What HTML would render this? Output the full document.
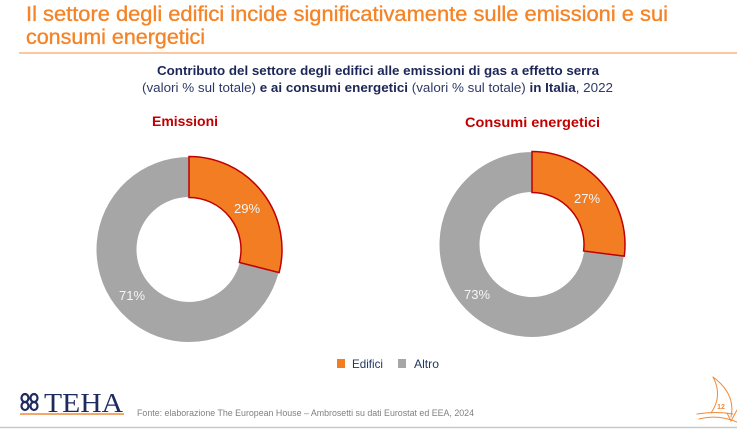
<!DOCTYPE html>
<html>
<head>
<meta charset="utf-8">
<style>
html,body{margin:0;padding:0;background:#fff;}
body{width:737px;height:429px;overflow:hidden;}
svg{display:block;}
text{font-family:"Liberation Sans",sans-serif;}
</style>
</head>
<body>
<svg width="737" height="429" viewBox="0 0 737 429" xmlns="http://www.w3.org/2000/svg">
  <rect width="737" height="429" fill="#fff"/>
  <!-- Title -->
  <text x="26" y="21" font-size="21" fill="#F58426" stroke="#F58426" stroke-width="0.35" textLength="642" lengthAdjust="spacingAndGlyphs">Il settore degli edifici incide significativamente sulle emissioni e sui</text>
  <text x="26" y="44" font-size="21" fill="#F58426" stroke="#F58426" stroke-width="0.35" textLength="179" lengthAdjust="spacingAndGlyphs">consumi energetici</text>
  <line x1="19" y1="53" x2="737" y2="53" stroke="#F5A66A" stroke-width="1.2"/>

  <!-- Subtitle -->
  <text x="157" y="75" font-size="13" font-weight="bold" fill="#1C2757" textLength="442" lengthAdjust="spacingAndGlyphs">Contributo del settore degli edifici alle emissioni di gas a effetto serra</text>
  <text x="142" y="92" font-size="13" fill="#2E3968" textLength="471" lengthAdjust="spacingAndGlyphs"><tspan>(valori % sul totale) </tspan><tspan font-weight="bold" fill="#1C2757">e ai consumi energetici </tspan><tspan>(valori % sul totale) </tspan><tspan font-weight="bold" fill="#1C2757">in Italia</tspan><tspan>, 2022</tspan></text>

  <!-- Chart titles -->
  <text x="152" y="126" font-size="14" font-weight="bold" fill="#C00000" textLength="66" lengthAdjust="spacingAndGlyphs">Emissioni</text>
  <text x="465" y="127" font-size="14" font-weight="bold" fill="#C00000" textLength="135" lengthAdjust="spacingAndGlyphs">Consumi energetici</text>

  <!-- Left donut -->
  <path d="M279.08,272.63 A93,93 0 1 1 189,156.5 L189,197.5 A52,52 0 1 0 239.37,262.43 Z" fill="#A6A6A6" stroke="#fff" stroke-width="1"/>
  <path d="M189,156.5 A93,93 0 0 1 279.08,272.63 L239.37,262.43 A52,52 0 0 0 189,197.5 Z" fill="#F37D22" stroke="#C00000" stroke-width="1.5"/>
  <text x="247" y="213" font-size="13" fill="#F5F5F5" text-anchor="middle">29%</text>
  <text x="132" y="300" font-size="13" fill="#F5F5F5" text-anchor="middle">71%</text>

  <!-- Right donut -->
  <path d="M624.27,256.16 A93,93 0 1 1 532,151.5 L532,192.5 A52,52 0 1 0 583.59,251.02 Z" fill="#A6A6A6" stroke="#fff" stroke-width="1"/>
  <path d="M532,151.5 A93,93 0 0 1 624.27,256.16 L583.59,251.02 A52,52 0 0 0 532,192.5 Z" fill="#F37D22" stroke="#C00000" stroke-width="1.5"/>
  <text x="587" y="203" font-size="13" fill="#F5F5F5" text-anchor="middle">27%</text>
  <text x="477" y="299" font-size="13" fill="#F5F5F5" text-anchor="middle">73%</text>

  <!-- Legend -->
  <rect x="337" y="359" width="8" height="9" fill="#F37D22"/>
  <text x="352" y="368" font-size="12" fill="#1F3864" textLength="31" lengthAdjust="spacingAndGlyphs">Edifici</text>
  <rect x="398" y="359" width="8" height="9" fill="#A6A6A6"/>
  <text x="414" y="368" font-size="12" fill="#1F3864" textLength="25" lengthAdjust="spacingAndGlyphs">Altro</text>

  <!-- TEHA logo -->
  <g fill="none" stroke="#1F2A5E" stroke-width="2.2">
    <ellipse cx="25" cy="398" rx="3.5" ry="4"/>
    <ellipse cx="25" cy="406" rx="3.5" ry="4"/>
    <ellipse cx="34" cy="398" rx="3.5" ry="4"/>
    <ellipse cx="34" cy="406" rx="3.5" ry="4"/>
  </g>
  <text x="44" y="412" font-size="27" fill="#1F2A5E" textLength="79" lengthAdjust="spacingAndGlyphs" style="font-family:'Liberation Serif',serif">TEHA</text>
  <line x1="20" y1="414" x2="124" y2="414" stroke="#F08A3A" stroke-width="1.6"/>

  <!-- Source -->
  <text x="137" y="416" font-size="9" fill="#808080" textLength="337" lengthAdjust="spacingAndGlyphs">Fonte: elaborazione The European House – Ambrosetti su dati Eurostat ed EEA, 2024</text>

  <!-- Sail icon -->
  <g fill="none" stroke="#F08A3A" stroke-width="1" stroke-linecap="round">
    <path d="M713,377 Q736,394 731,417"/>
    <path d="M713,377 Q723,396 711,413"/>
    <path d="M697,414 Q716,411 733,414"/>
    <path d="M699,419 Q718,414 737,422"/>
    <path d="M727,413 L731,421 L737,410"/>
  </g>
  <text x="721" y="409" font-size="7" font-weight="bold" fill="#F08A3A" text-anchor="middle">12</text>

  <!-- Bottom line -->
  <line x1="0" y1="427.5" x2="737" y2="427.5" stroke="#C8C8C8" stroke-width="1.5"/>
</svg>
</body>
</html>
